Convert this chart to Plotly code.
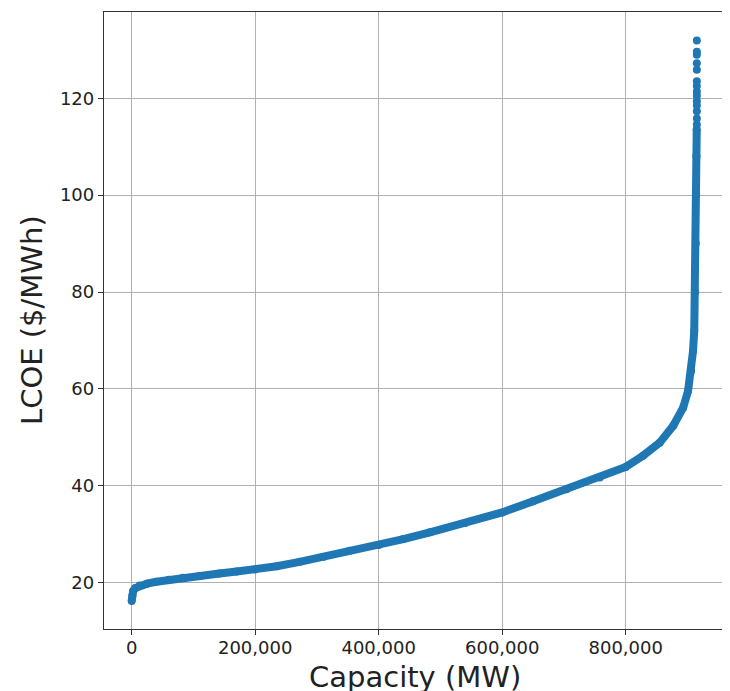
import plotly.graph_objects as go

# Supply curve (dense portion), capacity in MW and LCOE in $/MWh
capacity_mw = [0, 1000, 2500, 6000, 13000, 25000, 40000, 60000, 83000, 110000,
               142000, 170000, 200000, 235000, 272000, 310000, 353000, 400000,
               440000, 483000, 540000, 600000, 650000, 704000, 758000, 800000,
               828000, 855000, 877000, 893000, 901000, 906000, 909000, 911000,
               912500, 913500, 914000, 914500, 915000]
lcoe = [16.2, 17.3, 18.3, 18.9, 19.4, 19.8, 20.2, 20.6, 21.0, 21.4,
        21.9, 22.3, 22.7, 23.4, 24.3, 25.3, 26.6, 27.8,
        29.0, 30.4, 32.3, 34.5, 36.8, 39.3, 41.7, 43.9,
        46.2, 48.9, 52.4, 56.1, 59.6, 63.7, 67.8, 72.0,
        80.0, 90.0, 100.0, 108.0, 113.6]

# Sparse high-cost tail points
tail_capacity_mw = [915200, 915200, 915200, 915200, 915200, 915200, 915200,
                    915200, 915200, 915200, 915200, 915200, 915200, 915200]
tail_lcoe = [114.6, 115.8, 117.3, 118.5, 119.4, 120.5, 121.4,
             122.5, 123.5, 125.9, 127.2, 129.0, 129.6, 131.9]

x_tickvals = [0, 200000, 400000, 600000, 800000]
x_ticktext = ["0", "200,000", "400,000", "600,000", "800,000"]
y_tickvals = [20, 40, 60, 80, 100, 120]
y_ticktext = ["20", "40", "60", "80", "100", "120"]
x_title = "Capacity (MW)"
y_title = "LCOE ($/MWh)"

blue = "#1f77b4"
fig = go.Figure()
fig.add_trace(go.Scatter(x=capacity_mw, y=lcoe, mode="lines+markers",
                         line=dict(color=blue, width=8),
                         marker=dict(color=blue, size=8, line=dict(width=0)),
                         showlegend=False))
fig.add_trace(go.Scatter(x=tail_capacity_mw, y=tail_lcoe, mode="markers",
                         marker=dict(color=blue, size=8, line=dict(width=0)),
                         showlegend=False))

axis_common = dict(
    showgrid=True, gridcolor="#b0b0b0", gridwidth=1,
    showline=True, linecolor="#333333", linewidth=1.3, mirror=True,
    ticks="outside", ticklen=5, tickwidth=1.3, tickcolor="#333333",
    zeroline=False,
    tickfont=dict(family="DejaVu Sans", size=18, color="#222222"),
)

title_font = dict(family="DejaVu Sans", size=29, color="#222222")

fig.update_layout(
    width=722, height=683,
    margin=dict(l=96, r=4.5, t=3.5, b=61.7),
    paper_bgcolor="white", plot_bgcolor="white",
    xaxis=dict(range=[-44800, 960800], tickvals=x_tickvals, ticktext=x_ticktext,
               ticklabelstandoff=-3, automargin=False, **axis_common),
    yaxis=dict(range=[10.44, 137.8], tickvals=y_tickvals, ticktext=y_ticktext,
               automargin=False, **axis_common),
    annotations=[
        dict(text=x_title, xref="paper", yref="paper", x=0.5, y=0,
             xanchor="center", yanchor="middle", yshift=-48, showarrow=False,
             font=title_font),
        dict(text=y_title, xref="paper", yref="paper", x=0, y=0.5,
             xanchor="center", yanchor="middle", xshift=-72.5, showarrow=False,
             textangle=-90, font=title_font),
    ],
)

fig.write_html("out.html")
